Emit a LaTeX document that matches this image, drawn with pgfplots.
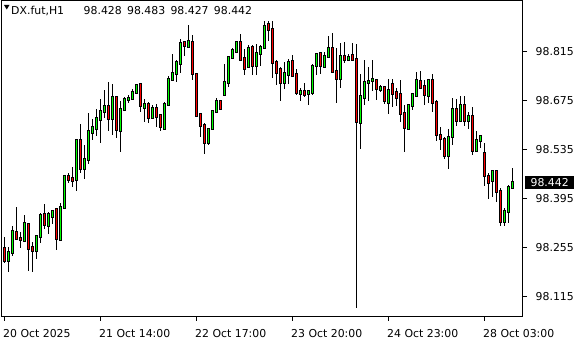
\documentclass[border=0pt]{standalone}
\usepackage{fontspec}
\setmainfont{DejaVu Sans}
\usepackage{pgfplots}
\usepackage{pgfplotstable}
\pgfplotsset{compat=1.18}
\definecolor{upc}{RGB}{0,255,0}
\definecolor{dnc}{RGB}{255,0,0}
\pgfplotstableread{
i O H L C
0 98.254 98.287 98.211 98.220
1 98.220 98.258 98.185 98.242
2 98.242 98.317 98.232 98.301
3 98.299 98.370 98.280 98.282
4 98.282 98.299 98.254 98.281
5 98.277 98.349 98.272 98.325
6 98.322 98.325 98.187 98.254
7 98.256 98.272 98.185 98.247
8 98.247 98.290 98.222 98.287
9 98.287 98.356 98.268 98.349
10 98.349 98.380 98.309 98.322
11 98.318 98.358 98.294 98.351
12 98.347 98.365 98.325 98.360
13 98.363 98.366 98.249 98.280
14 98.280 98.382 98.277 98.372
15 98.372 98.461 98.371 98.460
16 98.458 98.468 98.441 98.451
17 98.455 98.487 98.428 98.447
18 98.451 98.566 98.418 98.563
19 98.563 98.609 98.470 98.482
20 98.482 98.549 98.451 98.506
21 98.508 98.641 98.496 98.589
22 98.585 98.625 98.563 98.599
23 98.596 98.653 98.575 98.625
24 98.623 98.682 98.556 98.644
25 98.644 98.706 98.625 98.660
26 98.660 98.729 98.589 98.625
27 98.625 98.725 98.579 98.685
28 98.685 98.686 98.570 98.594
29 98.592 98.677 98.530 98.651
30 98.651 98.687 98.647 98.679
31 98.679 98.692 98.671 98.684
32 98.680 98.709 98.677 98.699
33 98.699 98.725 98.698 98.717
34 98.722 98.725 98.644 98.660
35 98.658 98.682 98.614 98.665
36 98.663 98.671 98.611 98.627
37 98.627 98.663 98.625 98.653
38 98.653 98.666 98.601 98.630
39 98.632 98.634 98.589 98.601
40 98.596 98.671 98.592 98.665
41 98.665 98.746 98.663 98.736
42 98.736 98.809 98.732 98.754
43 98.754 98.792 98.729 98.784
44 98.784 98.851 98.755 98.841
45 98.841 98.844 98.803 98.832
46 98.832 98.891 98.830 98.844
47 98.842 98.863 98.736 98.754
48 98.751 98.752 98.632 98.634
49 98.636 98.639 98.572 98.604
50 98.604 98.611 98.525 98.556
51 98.556 98.596 98.549 98.594
52 98.596 98.649 98.594 98.646
53 98.646 98.682 98.639 98.674
54 98.674 98.675 98.653 98.654
55 98.696 98.780 98.687 98.728
56 98.728 98.801 98.715 98.799
57 98.799 98.825 98.796 98.820
58 98.817 98.846 98.815 98.842
59 98.842 98.865 98.792 98.793
60 98.796 98.822 98.749 98.768
61 98.772 98.836 98.769 98.825
62 98.828 98.834 98.749 98.777
63 98.777 98.836 98.747 98.812
64 98.811 98.834 98.775 98.828
65 98.828 98.903 98.822 98.889
66 98.892 98.903 98.847 98.879
67 98.879 98.903 98.741 98.785
68 98.785 98.793 98.722 98.758
69 98.766 98.772 98.675 98.728
70 98.728 98.787 98.709 98.754
71 98.751 98.793 98.723 98.785
72 98.787 98.806 98.747 98.749
73 98.751 98.766 98.692 98.698
74 98.696 98.711 98.674 98.703
75 98.703 98.725 98.684 98.694
76 98.696 98.703 98.665 98.701
77 98.698 98.779 98.692 98.774
78 98.777 98.812 98.749 98.808
79 98.808 98.812 98.751 98.775
80 98.772 98.815 98.771 98.803
81 98.801 98.860 98.799 98.825
82 98.825 98.868 98.758 98.760
83 98.760 98.826 98.668 98.739
84 98.739 98.839 98.712 98.803
85 98.803 98.844 98.784 98.794
86 98.794 98.811 98.792 98.799
87 98.806 98.839 98.790 98.794
88 98.792 98.839 98.083 98.615
89 98.615 98.754 98.539 98.687
90 98.685 98.794 98.663 98.728
91 98.728 98.771 98.675 98.732
92 98.732 98.792 98.703 98.736
93 98.734 98.735 98.677 98.711
94 98.709 98.720 98.699 98.715
95 98.714 98.717 98.665 98.675
96 98.672 98.737 98.637 98.706
97 98.723 98.736 98.658 98.698
98 98.698 98.711 98.661 98.685
99 98.694 98.734 98.615 98.639
100 98.639 98.663 98.530 98.598
101 98.596 98.662 98.595 98.661
102 98.661 98.698 98.649 98.692
103 98.692 98.758 98.689 98.734
104 98.731 98.760 98.711 98.713
105 98.715 98.736 98.663 98.692
106 98.692 98.739 98.669 98.734
107 98.734 98.753 98.644 98.670
108 98.670 98.679 98.561 98.580
109 98.577 98.601 98.536 98.568
110 98.565 98.572 98.509 98.518
111 98.518 98.596 98.479 98.571
112 98.572 98.682 98.549 98.649
113 98.649 98.682 98.604 98.618
114 98.618 98.689 98.615 98.660
115 98.660 98.687 98.603 98.618
116 98.618 98.644 98.594 98.632
117 98.632 98.658 98.522 98.534
118 98.534 98.589 98.532 98.563
119 98.563 98.574 98.539 98.572
120 98.525 98.554 98.432 98.461
121 98.461 98.468 98.394 98.444
122 98.447 98.475 98.401 98.474
123 98.474 98.475 98.387 98.415
124 98.417 98.427 98.318 98.332
125 98.330 98.370 98.318 98.360
126 98.361 98.434 98.327 98.428
127 98.428 98.483 98.427 98.442
}\ohlc
\newcommand{\lblfont}{\fontsize{10.9bp}{13bp}\selectfont}
\begin{document}
\begin{tikzpicture}
\useasboundingbox (0,0) rectangle (580bp,340bp);
\begin{axis}[
  at={(1bp,23.5bp)}, anchor=south west,
  scale only axis, width=521.5bp, height=316bp,
  xmin=-0.75, xmax=129.625, ymin=98.0584, ymax=98.9613,
  axis line style={line width=0.8bp, black},
  tick style={line width=0.8bp, black},
  tick align=outside,
  major tick length=4.5bp,
  xtick pos=bottom, ytick pos=right,
  xtick={0,24,48,72,96,120},
  xticklabels={20 Oct 2025, 21 Oct 14:00, 22 Oct 17:00, 23 Oct 20:00, 24 Oct 23:00, 28 Oct 03:00},
  ytick={98.115,98.255,98.395,98.535,98.675,98.815},
  yticklabels={98.115,98.255,98.395,98.535,98.675,98.815},
  yticklabel pos=right,
  tick label style={font=\lblfont, inner sep=0pt},
  xticklabel style={anchor=north west, xshift=-1bp, yshift=-8.5bp},
  yticklabel style={anchor=west, xshift=8.5bp},
  extra y ticks={98.442},
  extra y tick labels={98.442},
  extra y tick style={major tick length=0pt, yticklabel style={fill=black, text=white, inner xsep=5.4bp, inner ysep=2.2bp, xshift=-6bp}},
]
% wicks
\addplot[draw=none, mark=none, forget plot,
  error bars/.cd, y dir=both, y explicit, error mark=none,
  error bar style={draw=black, line width=1bp}]
  table[x=i, y expr={(\thisrow{H}+\thisrow{L})/2}, y error expr={(\thisrow{H}-\thisrow{L})/2}] {\ohlc};
% body outlines
\addplot[draw=none, mark=none, forget plot,
  error bars/.cd, y dir=both, y explicit, error mark=none,
  error bar style={draw=black, line width=3bp, line cap=rect}]
  table[x=i, y expr={(\thisrow{O}+\thisrow{C})/2}, y error expr={abs(\thisrow{C}-\thisrow{O})/2}] {\ohlc};
% bullish bodies
\addplot[draw=none, mark=none, forget plot, restrict y to domain=98:100, unbounded coords=discard,
  error bars/.cd, y dir=both, y explicit, error mark=none,
  error bar style={draw=upc, line width=1bp, line cap=rect}]
  table[x=i, y expr={\thisrow{C}<\thisrow{O} ? 0 : (\thisrow{O}+\thisrow{C})/2}, y error expr={abs(\thisrow{C}-\thisrow{O})/2}] {\ohlc};
% bearish bodies
\addplot[draw=none, mark=none, forget plot, restrict y to domain=98:100, unbounded coords=discard,
  error bars/.cd, y dir=both, y explicit, error mark=none,
  error bar style={draw=dnc, line width=1bp, line cap=rect}]
  table[x=i, y expr={\thisrow{C}<\thisrow{O} ? (\thisrow{O}+\thisrow{C})/2 : 0}, y error expr={abs(\thisrow{C}-\thisrow{O})/2}] {\ohlc};
\end{axis}
\fill (4bp,335bp) -- (9.5bp,335bp) -- (6.75bp,330.5bp) -- cycle;
\node[anchor=base west, inner sep=0pt, font=\lblfont] at (11bp,325bp) {DX.fut,H1};
\node[anchor=base west, inner sep=0pt, font=\lblfont] at (83.5bp,325bp) {98.428\hspace{5.3bp}98.483\hspace{5.3bp}98.427\hspace{5.3bp}98.442};
\end{tikzpicture}
\end{document}
